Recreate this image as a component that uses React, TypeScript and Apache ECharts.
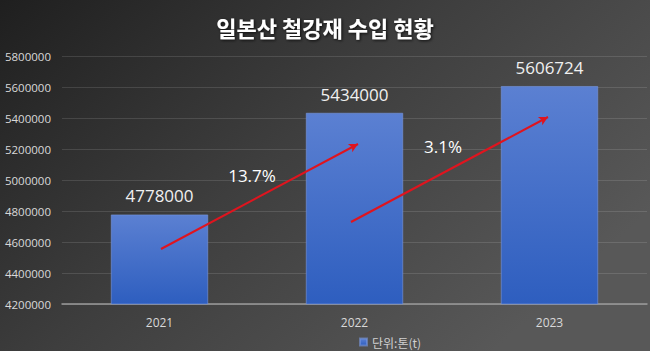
import React, { useEffect, useRef } from "react";
import * as echarts from "echarts";

const categories = ["2021", "2022", "2023"];
const values = [4778000, 5434000, 5606724];
const growthLabels = ["13.7%", "3.1%"];
const seriesName = "단위:톤(t)";
const titleText = "일본산 철강재 수입 현황";

export default function App() {
  const ref = useRef<HTMLDivElement>(null);
  useEffect(() => {
    if (!ref.current) return;
    const chart = echarts.init(ref.current, null, { renderer: "svg" });
    const numFont = "'Open Sans', 'Noto Sans', sans-serif";
    chart.setOption({
      animation: false,
      backgroundColor: {
        type: "linear",
        x: 0,
        y: 0,
        x2: 1,
        y2: 0.6,
        colorStops: [
          { offset: 0, color: "#1f1f1f" },
          { offset: 0.5, color: "#3e3e3e" },
          { offset: 1, color: "#585858" },
        ],
      },
      title: {
        text: titleText,
        left: "center",
        top: 11,
        textStyle: {
          color: "#ffffff",
          fontSize: 22,
          fontWeight: "bold",
          fontFamily: "'Noto Sans CJK KR', sans-serif",
          textShadowColor: "rgba(0,0,0,0.8)",
          textShadowBlur: 3,
          textShadowOffsetX: 1,
          textShadowOffsetY: 1,
        },
      },
      legend: {
        left: 354,
        top: 331,
        itemWidth: 7,
        itemHeight: 7,
        itemGap: 4,
        icon: "rect",
        textStyle: {
          color: "#d0d0d0",
          fontSize: 12,
          fontFamily: "'Noto Sans CJK KR', sans-serif",
        },
        data: [seriesName],
      },
      grid: { left: 62, right: 3, top: 56, bottom: 47, outerBoundsMode: "none", containLabel: false },
      xAxis: {
        type: "category",
        data: categories,
        axisLine: { lineStyle: { color: "#9a9a9a", width: 1.5 } },
        axisTick: { show: false },
        axisLabel: {
          color: "#d9d9d9",
          fontSize: 12,
          margin: 12,
          fontFamily: numFont,
        },
      },
      yAxis: {
        type: "value",
        min: 4200000,
        max: 5800000,
        interval: 200000,
        axisLine: { show: false },
        axisTick: { show: false },
        axisLabel: {
          color: "#d9d9d9",
          fontSize: 11.5,
          margin: 11,
          fontFamily: numFont,
          formatter: (v: number) => String(v),
        },
        splitLine: { lineStyle: { color: "rgba(255,255,255,0.12)", width: 1 } },
      },
      series: [
        {
          name: seriesName,
          type: "bar",
          data: values,
          barWidth: "50%",
          itemStyle: {
            color: {
              type: "linear",
              x: 0,
              y: 0,
              x2: 0,
              y2: 1,
              colorStops: [
                { offset: 0, color: "#5b80d2" },
                { offset: 1, color: "#2e5ebf" },
              ],
            },
            borderColor: "rgba(120,150,220,0.6)",
            borderWidth: 1,
          },
          label: {
            show: true,
            position: "top",
            distance: 10,
            color: "#f0f0f0",
            fontSize: 17,
            fontFamily: numFont,
          },
          markLine: {
            silent: true,
            symbol: ["none", "arrow"],
            symbolSize: [7, 9],
            label: { show: false },
            lineStyle: { color: "#e0141e", width: 2, type: "solid" },
            data: [
              [
                { x: 161, y: 249 },
                { x: 358, y: 144 },
              ],
              [
                { x: 351, y: 222 },
                { x: 548, y: 117 },
              ],
            ],
          },
        },
      ],
      graphic: [
        {
          type: "text",
          x: 252,
          y: 175,
          style: {
            text: growthLabels[0],
            fill: "#ffffff",
            fontSize: 17,
            fontFamily: numFont,
            align: "center",
            verticalAlign: "middle",
          },
        },
        {
          type: "text",
          x: 443,
          y: 146,
          style: {
            text: growthLabels[1],
            fill: "#ffffff",
            fontSize: 17,
            fontFamily: numFont,
            align: "center",
            verticalAlign: "middle",
          },
        },
      ],
    });
    return () => chart.dispose();
  }, []);
  return (
    <div
      ref={ref}
      style={{ position: "fixed", left: 0, top: 0, width: 650, height: 351 }}
    />
  );
}
